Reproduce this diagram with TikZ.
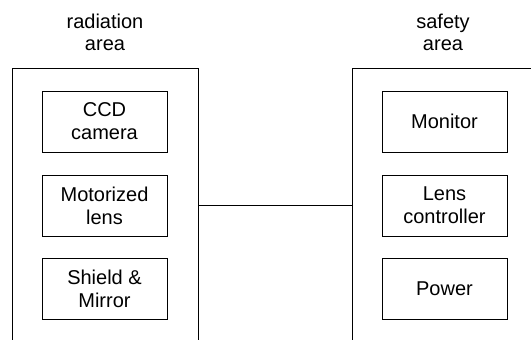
\documentclass[tikz,border=0pt]{standalone}
\usepackage{fontspec}
\setmainfont{Liberation Sans}
\begin{document}
\begin{tikzpicture}[x=1pt,y=-1pt,
  unit/.style={draw, line width=1pt, minimum width=125pt, minimum height=61pt,
    inner sep=0pt, align=center, font=\fontsize{20}{23}\selectfont},
  wall/.style={line width=1pt},
  link/.style={line width=1pt},
  title/.style={align=center, font=\fontsize{20}{22}\selectfont}]
\useasboundingbox (0,0) rectangle (531,340);

% area titles
\node[title] (radlbl)  at (105,32) {radiation\\area};
\node[title] (safelbl) at (443,32) {safety\\area};

% area enclosures (open towards the page edges)
\draw[wall] (12,342) |- (198,68) -- (198,342);
\draw[wall] (352,342) |- (533,68);
\coordinate (radwall)  at (198,205);
\coordinate (safewall) at (352,205);

% equipment in the radiation area
\node[unit] (ccd)    at (104.5,121.5) {CCD\\camera};
\node[unit] (lens)   at (104.5,205.5) {Motorized\\lens};
\node[unit] (shield) at (104.5,288.5) {Shield \&\\Mirror};

% equipment in the safety area
\node[unit] (mon)  at (444.5,121.5) {Monitor};
\node[unit] (ctrl) at (444.5,205.5) {Lens\\controller};
\node[unit] (pwr)  at (444.5,288.5) {Power};

% cable between the two areas
\draw[link] (radwall) -- (safewall);
\end{tikzpicture}
\end{document}
